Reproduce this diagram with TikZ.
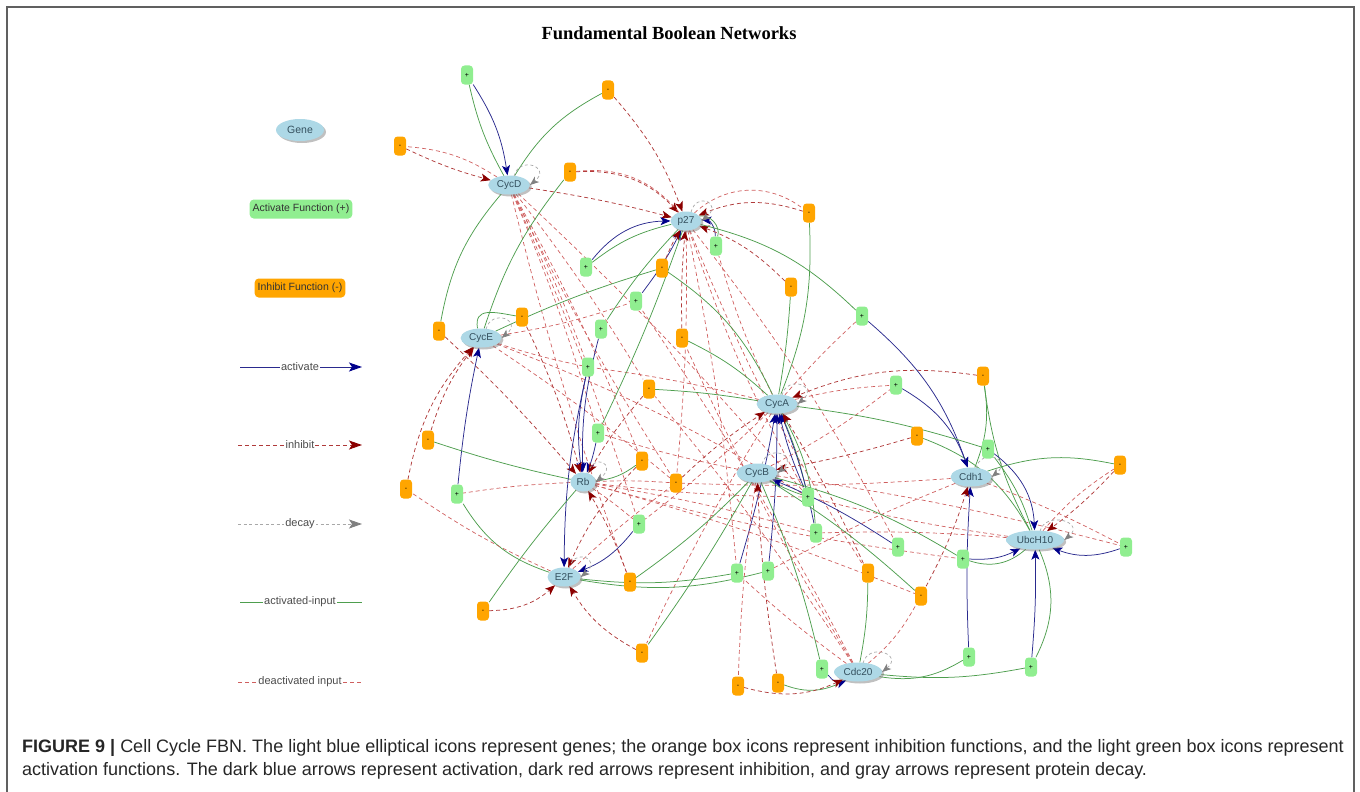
\documentclass[tikz,border=0pt]{standalone}
\usepackage{fontspec}
\setmainfont{Liberation Sans}
\newfontfamily\titlefont{Liberation Serif}
\usetikzlibrary{arrows.meta,shapes.geometric,shadows,calc}

\definecolor{geneblue}{HTML}{ADD8E6}
\definecolor{genetext}{HTML}{34505E}
\definecolor{actgreen}{HTML}{90EE90}
\definecolor{inhorange}{HTML}{FFA500}
\definecolor{actline}{HTML}{2A2A8E}
\definecolor{actblue}{HTML}{00008B}
\definecolor{inhline}{HTML}{B03A3A}
\definecolor{inhred}{HTML}{8B0000}
\definecolor{aingreen}{HTML}{4E9E4E}
\definecolor{dinred}{HTML}{CF5F5F}
\definecolor{decaygray}{HTML}{A8A8A8}
\definecolor{decaytip}{HTML}{808080}
\definecolor{framegray}{HTML}{606060}

\pgfdeclarelayer{edges}
\pgfsetlayers{edges,main}

% gray self-loop for protein decay, ending on the right side of a gene
\newcommand\decayloop[1]{%
  \draw[decay] ($(#1.north)+(5,-1)$) .. controls ($(#1.north)+(10,20)$) and ($(#1.east)+(22,18)$) .. (#1.east);}

\begin{document}
\begin{tikzpicture}[x=1pt,y=1pt,
  gene/.style={ellipse, fill=geneblue, text=genetext, font=\fontsize{10}{11}\selectfont,
    inner xsep=2.5pt, inner ysep=1.5pt, minimum height=19pt,
    drop shadow={shadow xshift=2pt,shadow yshift=-2pt,opacity=0.45,fill=black!55}},
  pbox/.style={rectangle, rounded corners=3.5pt, fill=actgreen, minimum width=12pt,
    minimum height=19pt, inner sep=0pt, font=\fontsize{7}{7}\selectfont},
  mbox/.style={pbox, fill=inhorange},
  lgbox/.style={rectangle, rounded corners=4pt, minimum height=19pt, inner xsep=3pt,
    font=\fontsize{10.5}{11}\selectfont, text=black!80},
  lglabel/.style={fill=white, inner xsep=1pt, inner ysep=0.5pt,
    font=\fontsize{11}{12}\selectfont, text=black!70},
  act/.style={draw=actline, line width=0.75pt,
    -{Stealth[length=10pt,width=8pt,inset=2.5pt,color=actblue]}},
  inh/.style={draw=inhline, line width=0.75pt, dash pattern=on 4pt off 3pt,
    -{Stealth[length=10pt,width=8pt,inset=2.5pt,color=inhred]}},
  ain/.style={draw=aingreen, line width=0.75pt},
  din/.style={draw=dinred, line width=0.7pt, dash pattern=on 4pt off 3pt},
  decay/.style={draw=decaygray, line width=0.7pt, dash pattern=on 3pt off 2.5pt,
    -{Stealth[length=9pt,width=7pt,inset=2.5pt,color=decaytip]}},
  lgtip/.style={-{Stealth[length=13pt,width=9pt,inset=3pt,color=#1]}}
]
\useasboundingbox (0,0) rectangle (1360,-792);

% frame
\draw[framegray, line width=1.6pt] (7,-792) -- (7,-7) -- (1354,-7) -- (1354,-792);

% title
\node[font=\titlefont\fontsize{18.5}{21}\selectfont\bfseries] (title) at (669,-33) {Fundamental Boolean Networks};

% ---------------- legend ----------------
\node[gene, minimum width=48pt, minimum height=22pt, font=\fontsize{10.5}{11}\selectfont] (lgGene) at (300,-130) {Gene};
\node[lgbox, fill=actgreen] (lgAct) at (301,-209) {Activate Function (+)};
\node[lgbox, fill=inhorange] (lgInh) at (300,-288) {Inhibit Function (-)};

\coordinate (la1) at (240,-367); \coordinate (la2) at (362,-367);
\coordinate (li1) at (238,-445); \coordinate (li2) at (362,-445);
\coordinate (ld1) at (238,-524); \coordinate (ld2) at (362,-524);
\coordinate (lp1) at (240,-602); \coordinate (lp2) at (362,-602);
\coordinate (lm1) at (238,-682); \coordinate (lm2) at (362,-682);
\draw[act, line width=1pt, lgtip=actblue] (la1) -- (la2);
\draw[inh, line width=1pt, lgtip=inhred] (li1) -- (li2);
\draw[decay, line width=0.9pt, lgtip=decaytip] (ld1) -- (ld2);
\draw[ain, line width=1pt] (lp1) -- (lp2);
\draw[din, line width=0.9pt] (lm1) -- (lm2);
\node[lglabel] (lbA) at (300,-367) {activate};
\node[lglabel] (lbI) at (300,-445) {inhibit};
\node[lglabel] (lbD) at (300,-524) {decay};
\node[lglabel] (lbP) at (300,-602) {activated-input};
\node[lglabel] (lbM) at (300,-682) {deactivated input};

% ---------------- genes ----------------
\node[gene] (CycD) at (509,-185) {CycD};
\node[gene] (p27) at (686,-221) {p27};
\node[gene] (CycE) at (481,-338) {CycE};
\node[gene] (CycA) at (777,-404) {CycA};
\node[gene] (Rb) at (583,-482) {Rb};
\node[gene] (CycB) at (757,-473) {CycB};
\node[gene] (Cdh1) at (971,-477) {Cdh1};
\node[gene] (UbcH10) at (1035,-540) {UbcH10};
\node[gene] (E2F) at (564,-577) {E2F};
\node[gene] (Cdc20) at (858,-672) {Cdc20};

% ---------------- activation functions ----------------
\foreach \n/\x/\y in {g1/467/75, g2/586/267, g3/716/246, g4/636/301, g5/601/329,
  g6/588/367, g7/598/433, g8/862/316, g9/896/385, g10/988/449, g11/457/494,
  g12/639/524, g13/808/497, g14/816/533, g15/898/547, g16/737/573, g17/768/571,
  g18/963/559, g19/1126/547, g20/822/669, g21/969/657, g22/1031/667}
  \node[pbox] (\n) at (\x,-\y) {+};

% ---------------- inhibition functions ----------------
\foreach \n/\x/\y in {o1/400/146, o2/608/90, o3/570/172, o4/809/213, o5/662/268,
  o6/791/287, o7/682/338, o8/522/317, o9/439/331, o10/649/389, o11/983/376,
  o12/917/436, o13/1120/465, o14/428/440, o15/642/461, o16/676/483, o17/406/489,
  o18/630/582, o19/483/611, o20/642/653, o21/868/573, o22/921/596, o23/738/686,
  o24/778/683}
  \node[mbox] (\n) at (\x,-\y) {-};

\begin{pgfonlayer}{edges}
% deactivated inputs crossing the network
\foreach \a/\b/\k in {CycA/g3/5, CycE/g4/-5, CycA/g6/-3, CycD/g6/3, CycD/g7/3,
  CycD/o10/3, CycD/o15/3, CycD/o16/-3, CycD/g12/3, CycD/o18/-3, p27/o16/3,
  p27/g13/-5, p27/g16/3, p27/o21/-5, CycE/g6/-3, CycE/g13/5, CycE/o16/3,
  Rb/g13/-3, Rb/g14/3, Rb/g18/-4, Rb/o22/3, CycA/g12/3, CycA/o20/-3, CycB/g7/3,
  CycB/g9/-5, CycB/g19/3, Cdc20/o7/3, Cdc20/g4/-3, Cdh1/o16/3, Cdh1/g17/-3,
  UbcH10/g13/3, UbcH10/g14/-3, E2F/o16/3, Cdc20/g16/3, Cdc20/o10/-3, CycD/g13/3}
  \draw[din] (\a) to[bend left=\k] (\b);

% CycD
\draw[act] (g1) to[bend left=12] (CycD);
\draw[ain] (CycD) to[bend left=8] (g1);
\draw[inh] (o1) to[bend right=5] (CycD);
\draw[din] (CycD) to[bend right=14] (o1);
\draw[inh] (CycD) to[bend left=3] (p27);

% p27
\draw[inh] (o2) to[bend left=10] (p27);
\draw[ain] (CycD) to[bend left=15] (o2);
\draw[inh] (o3) to[bend left=25] (p27);
\draw[din] (p27) to[bend right=28] (o3);
\draw[ain] (CycE) to[bend left=10] (o3);
\draw[act] (g2) to[bend left=25] (p27);
\draw[ain] (p27) to[bend right=12] (g2);
\draw[act] (g3) to[bend right=45] (p27);
\draw[ain] (p27) to[bend left=60] (g3);
\draw[act] (g4) to[bend right=5] (p27);
\draw[inh] (o4) to[bend right=20] (p27);
\draw[din] (p27) to[bend left=40] (o4);
\draw[ain] (CycA) to[bend right=12] (o4);
\draw[inh] (o5) to[bend left=5] (p27);
\draw[ain] (CycE) to[bend left=4] (o5);
\draw[ain] (CycA) to[bend right=15] (o5);
\draw[inh] (o6) to[bend right=12] (p27);
\draw[ain] (CycA) to[bend right=3] (o6);
\draw[inh] (o7) to[bend left=3] (p27);
\draw[ain] (CycA) to[bend right=8] (o7);

% Rb
\draw[act] (g5) to[bend right=8] (Rb);
\draw[ain] (p27) to[bend right=5] (g5);
\draw[act] (g6) to[bend right=10] (Rb);
\draw[act] (g7) to[bend left=5] (Rb);
\draw[ain] (p27) to[bend left=3] (g7);
\draw[inh] (o8) to[bend left=5] (Rb);
\draw[ain] (CycE.110) to[out=100,in=170,looseness=1.4] (o8);
\draw[inh] (o9) to[bend left=3] (Rb);
\draw[ain] (CycD) to[bend right=15] (o9);
\draw[inh] (o10) to[bend right=5] (Rb);
\draw[ain] (CycA) to[bend right=3] (o10);
\draw[inh] (o18) to[bend right=5] (Rb);
\draw[ain] (CycB) to[bend left=5] (o18);

% CycE
\draw[act] (g11) to[bend left=3] (CycE);
\draw[ain] (E2F) to[bend left=20] (g11);
\draw[din] (Rb) to[bend right=3] (g11);
\draw[inh] (o14) to[bend left=10] (CycE);
\draw[ain] (Rb) to[bend left=3] (o14);
\draw[inh] (o17) to[bend left=15] (CycE);
\draw[din] (E2F) to[bend left=5] (o17);

% E2F
\draw[act] (g6) to[bend right=6] (E2F);
\draw[act] (g12) to[bend left=15] (E2F);
\draw[din] (Rb) to[bend left=3] (g12);
\draw[inh] (o19) to[bend right=20] (E2F);
\draw[ain] (Rb) to[bend right=3] (o19);
\draw[inh] (o20) to[bend left=15] (E2F);
\draw[ain] (CycB) to[bend left=3] (o20);
\draw[inh] (o15) to[bend right=10] (E2F);
\draw[ain] (Rb) to[bend right=15] (o15);

% CycA
\draw[inh] (o11) to[bend right=15] (CycA);
\draw[ain] (UbcH10) to[bend left=10] (o11);
\draw[ain] (Cdh1) to[bend right=15] (o11);
\draw[act] (g13) to[bend left=5] (CycA);
\draw[ain] (CycB) to[bend right=5] (g13);
\draw[ain] (CycA) to[bend left=5] (g13);
\draw[act] (g14) to[bend right=5] (CycA);
\draw[ain] (CycA) to[bend left=12] (g14);
\draw[act] (g16) to[bend right=3] (CycA);
\draw[ain] (E2F) to[bend right=8] (g16);
\draw[act] (g17) to[bend right=3] (CycA);
\draw[ain] (E2F) to[bend right=12] (g17);
\draw[inh] (o16) to[bend left=5] (CycA);
\draw[din] (Rb) to[bend left=3] (o16);
\draw[inh] (o21) to[bend right=3] (CycA);
\draw[ain] (Cdc20) to[bend right=5] (o21);

% CycB
\draw[act] (g15) to[bend right=5] (CycB);
\draw[din] (p27) to[bend left=5] (g15);
\draw[inh] (o12) to[bend left=3] (CycB);
\draw[ain] (UbcH10) to[bend right=20] (o12);
\draw[inh] (o24) to[bend left=3] (CycB);
\draw[ain] (Cdc20) to[bend left=25] (o24);

% Cdh1
\draw[act] (g8) to[bend left=15] (Cdh1);
\draw[ain] (p27) to[bend left=15] (g8);
\draw[din] (CycA) to[bend left=3] (g8);
\draw[act] (g9) to[bend left=20] (Cdh1);
\draw[din] (CycA) to[bend left=5] (g9);
\draw[act] (g21) to[bend left=3] (Cdh1);
\draw[ain] (Cdc20) to[bend right=20] (g21);
\draw[inh] (o22) to[bend right=5] (Cdh1);
\draw[ain] (CycB) to[bend left=5] (o22);
\draw[din] (Cdc20) to[bend right=10] (o22);

% UbcH10
\draw[act] (g10) to[bend left=25] (UbcH10);
\draw[ain] (CycA) to[bend left=5] (g10);
\draw[ain] (UbcH10) to[bend right=10] (g10);
\draw[inh] (o13) to[bend left=5] (UbcH10);
\draw[din] (UbcH10) to[bend left=8] (o13);
\draw[ain] (Cdh1) to[bend left=15] (o13);
\draw[act] (g18) to[bend right=15] (UbcH10);
\draw[ain] (UbcH10) to[bend left=30] (g18);
\draw[ain] (CycB) to[bend left=8] (g18);
\draw[act] (g19) to[bend left=20] (UbcH10);
\draw[din] (Cdh1) to[bend left=3] (g19);
\draw[act] (g22) to[bend right=3] (UbcH10);
\draw[ain] (Cdc20) to[bend right=8] (g22);
\draw[ain] (UbcH10) to[bend left=25] (g22);

% Cdc20
\draw[act] (g20) to[bend right=40] (Cdc20);
\draw[ain] (CycB) to[bend left=5] (g20);
\draw[inh] (o23) to[bend right=20] (Cdc20);
\draw[din] (CycB) to[bend right=3] (o23);

% decay of every gene product
\foreach \g in {CycD,p27,CycE,CycA,Rb,CycB,Cdh1,UbcH10,E2F,Cdc20}
  \decayloop{\g};
\end{pgfonlayer}

% ---------------- caption ----------------
\node[anchor=base west, inner sep=0pt, font=\fontsize{18}{20}\selectfont, text=black!85] (cap1) at (22,-752)
  {\textbf{FIGURE 9 |} Cell Cycle FBN. The light blue elliptical icons represent genes; the orange box icons represent inhibition functions, and the light green box icons represent};
\node[anchor=base west, inner sep=0pt, font=\fontsize{18}{20}\selectfont, text=black!85] (cap2) at (22,-775)
  {activation functions. The dark blue arrows represent activation, dark red arrows represent inhibition, and gray arrows represent protein decay.};
\end{tikzpicture}
\end{document}
